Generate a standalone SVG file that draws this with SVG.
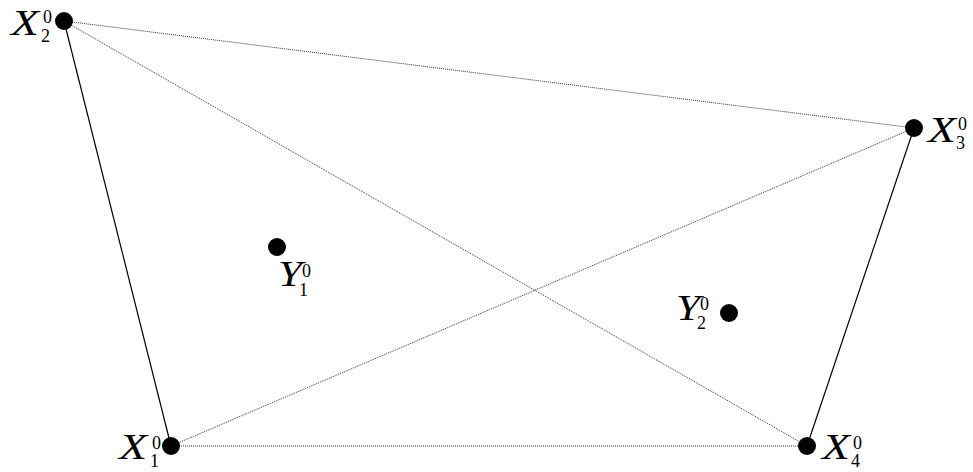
<svg xmlns="http://www.w3.org/2000/svg" width="973" height="472" viewBox="0 0 973 472">
<style>
.solid{stroke:#000;stroke-width:1.2;fill:none}
.dot{stroke:#333;stroke-width:1;stroke-dasharray:1 1;fill:none}
.pt{fill:#000}
text{font-family:'Liberation Serif','Times New Roman',serif;fill:#000}
.v{font-style:italic;font-size:35px}
.s{font-size:18px}
</style>
<rect width="973" height="472" fill="#fff"/>
<g id="connectors">
<line class="solid" x1="64" y1="21" x2="171" y2="446"/>
<line class="solid" x1="914" y1="128" x2="807" y2="446"/>
<line class="dot" x1="64" y1="21" x2="914" y2="128"/>
<line class="dot" x1="64" y1="21" x2="807" y2="446"/>
<line class="dot" x1="171" y1="446" x2="914" y2="128"/>
<line class="dot" x1="171" y1="446" x2="807" y2="446"/>
</g>
<g id="X2"><circle class="pt" cx="64" cy="21" r="9"/><text class="v" x="11" y="35" textLength="28" lengthAdjust="spacingAndGlyphs">X</text><text class="s" x="43" y="23">0</text><text class="s" x="41" y="42">2</text></g>
<g id="X3"><circle class="pt" cx="914" cy="128" r="9"/><text class="v" x="928" y="142" textLength="28" lengthAdjust="spacingAndGlyphs">X</text><text class="s" x="958" y="130">0</text><text class="s" x="956" y="149">3</text></g>
<g id="Y1"><circle class="pt" cx="277" cy="247" r="9"/><text class="v" x="278" y="286" textLength="24" lengthAdjust="spacingAndGlyphs">Y</text><text class="s" x="302" y="277">0</text><text class="s" x="299" y="296">1</text></g>
<g id="Y2"><circle class="pt" cx="729" cy="313" r="9"/><text class="v" x="676" y="320" textLength="24" lengthAdjust="spacingAndGlyphs">Y</text><text class="s" x="700" y="310">0</text><text class="s" x="697" y="329">2</text></g>
<g id="X1"><circle class="pt" cx="171" cy="446" r="9"/><text class="v" x="119" y="459" textLength="28" lengthAdjust="spacingAndGlyphs">X</text><text class="s" x="152" y="449">0</text><text class="s" x="150" y="467">1</text></g>
<g id="X4"><circle class="pt" cx="807" cy="446" r="9"/><text class="v" x="822" y="459" textLength="28" lengthAdjust="spacingAndGlyphs">X</text><text class="s" x="853" y="449">0</text><text class="s" x="851" y="467">4</text></g>
</svg>
